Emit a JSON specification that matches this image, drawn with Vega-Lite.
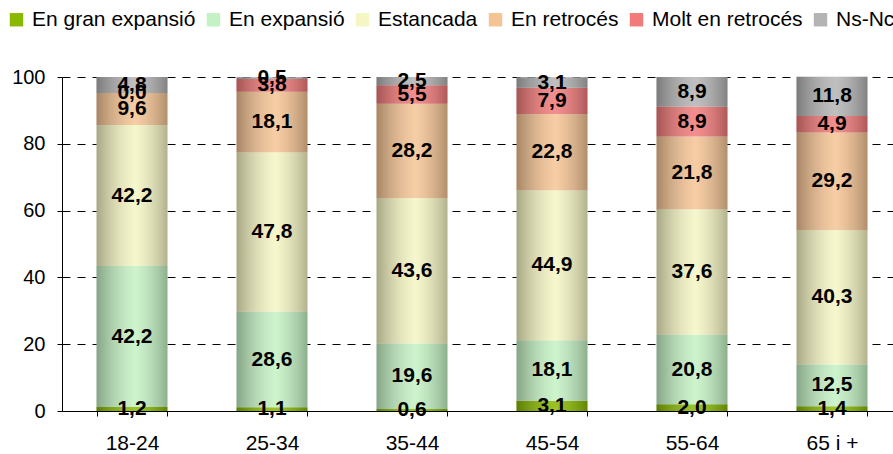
{
  "$schema": "https://vega.github.io/schema/vega-lite/v6.json",
  "autosize": "none",
  "width": 831,
  "height": 334,
  "padding": {"left": 62, "top": 77, "right": 0, "bottom": 43},
  "config": {
    "font": "Liberation Sans",
    "view": {"stroke": null},
    "locale": {"number": {"decimal": ",", "thousands": ".", "grouping": [3], "currency": ["", " €"]}}
  },
  "datasets": {
    "estats": [
      {"status": "En gran expansió", "ordre": 1},
      {"status": "En expansió", "ordre": 2},
      {"status": "Estancada", "ordre": 3},
      {"status": "En retrocés", "ordre": 4},
      {"status": "Molt en retrocés", "ordre": 5},
      {"status": "Ns-Nc", "ordre": 6}
    ],
    "enquesta": [
      {"age": "18-24", "status": "En gran expansió", "value": 1.2},
      {"age": "18-24", "status": "En expansió", "value": 42.2},
      {"age": "18-24", "status": "Estancada", "value": 42.2},
      {"age": "18-24", "status": "En retrocés", "value": 9.6},
      {"age": "18-24", "status": "Molt en retrocés", "value": 0.0},
      {"age": "18-24", "status": "Ns-Nc", "value": 4.8},
      {"age": "25-34", "status": "En gran expansió", "value": 1.1},
      {"age": "25-34", "status": "En expansió", "value": 28.6},
      {"age": "25-34", "status": "Estancada", "value": 47.8},
      {"age": "25-34", "status": "En retrocés", "value": 18.1},
      {"age": "25-34", "status": "Molt en retrocés", "value": 3.8},
      {"age": "25-34", "status": "Ns-Nc", "value": 0.5},
      {"age": "35-44", "status": "En gran expansió", "value": 0.6},
      {"age": "35-44", "status": "En expansió", "value": 19.6},
      {"age": "35-44", "status": "Estancada", "value": 43.6},
      {"age": "35-44", "status": "En retrocés", "value": 28.2},
      {"age": "35-44", "status": "Molt en retrocés", "value": 5.5},
      {"age": "35-44", "status": "Ns-Nc", "value": 2.5},
      {"age": "45-54", "status": "En gran expansió", "value": 3.1},
      {"age": "45-54", "status": "En expansió", "value": 18.1},
      {"age": "45-54", "status": "Estancada", "value": 44.9},
      {"age": "45-54", "status": "En retrocés", "value": 22.8},
      {"age": "45-54", "status": "Molt en retrocés", "value": 7.9},
      {"age": "45-54", "status": "Ns-Nc", "value": 3.1},
      {"age": "55-64", "status": "En gran expansió", "value": 2.0},
      {"age": "55-64", "status": "En expansió", "value": 20.8},
      {"age": "55-64", "status": "Estancada", "value": 37.6},
      {"age": "55-64", "status": "En retrocés", "value": 21.8},
      {"age": "55-64", "status": "Molt en retrocés", "value": 8.9},
      {"age": "55-64", "status": "Ns-Nc", "value": 8.9},
      {"age": "65 i +", "status": "En gran expansió", "value": 1.4},
      {"age": "65 i +", "status": "En expansió", "value": 12.5},
      {"age": "65 i +", "status": "Estancada", "value": 40.3},
      {"age": "65 i +", "status": "En retrocés", "value": 29.2},
      {"age": "65 i +", "status": "Molt en retrocés", "value": 4.9},
      {"age": "65 i +", "status": "Ns-Nc", "value": 11.8}
    ]
  },
  "data": {"name": "enquesta"},
  "transform": [
    {"lookup": "status", "from": {"data": {"name": "estats"}, "key": "status", "fields": ["ordre"]}}
  ],
  "encoding": {
    "x": {
      "field": "age",
      "type": "nominal",
      "sort": null,
      "scale": {"range": [0, 840], "paddingInner": 0.493, "paddingOuter": 0.2465},
      "axis": {
        "title": null,
        "labelAngle": 0,
        "labelFontSize": 21,
        "labelColor": "#000000",
        "labelPadding": 16,
        "tickBand": "extent",
        "tickSize": 5,
        "tickColor": "#000000",
        "domainColor": "#000000",
        "grid": false
      }
    },
    "order": {"field": "ordre", "type": "quantitative", "sort": "ascending"}
  },
  "layer": [
    {
      "mark": {"type": "bar"},
      "encoding": {
        "y": {
          "field": "value",
          "type": "quantitative",
          "stack": "zero",
          "scale": {"domain": [0, 100], "nice": false},
          "axis": {
            "title": null,
            "values": [0, 20, 40, 60, 80, 100],
            "labelFontSize": 20,
            "labelColor": "#000000",
            "labelPadding": 12,
            "tickSize": 5,
            "tickColor": "#000000",
            "domainColor": "#000000",
            "grid": true,
            "gridColor": "#000000",
            "gridDash": [8, 7],
            "gridWidth": 1
          }
        },
        "color": {
          "field": "status",
          "type": "nominal",
          "sort": ["En gran expansió", "En expansió", "Estancada", "En retrocés", "Molt en retrocés", "Ns-Nc"],
          "scale": {
            "domain": ["En gran expansió", "En expansió", "Estancada", "En retrocés", "Molt en retrocés", "Ns-Nc"],
            "range": ["#88b800", "#c4f2c4", "#f6f6c4", "#f5c494", "#f27a7a", "#b4b4b4"]
          },
          "legend": {
            "title": null,
            "orient": "none",
            "direction": "horizontal",
            "legendX": -56,
            "legendY": -68,
            "padding": 0,
            "symbolType": "square",
            "symbolSize": 180,
            "symbolStrokeWidth": 0,
            "labelFontSize": 21,
            "labelColor": "#000000",
            "labelOffset": 5,
            "labelLimit": 300,
            "columnPadding": 7
          }
        }
      }
    },
    {
      "mark": {
        "type": "bar",
        "fill": {
          "gradient": "linear",
          "x1": 0, "y1": 0, "x2": 1, "y2": 0,
          "stops": [
            {"offset": 0, "color": "rgba(0,0,0,0.32)"},
            {"offset": 0.55, "color": "rgba(255,255,255,0.15)"},
            {"offset": 1, "color": "rgba(0,0,0,0.28)"}
          ]
        }
      },
      "encoding": {
        "y": {"field": "value", "type": "quantitative", "stack": "zero"},
        "detail": {"field": "status"}
      }
    },
    {
      "mark": {"type": "text", "fontWeight": "bold", "fontSize": 21, "baseline": "middle", "color": "#000000"},
      "encoding": {
        "y": {"field": "value", "type": "quantitative", "stack": "zero", "bandPosition": 0.5},
        "text": {"field": "value", "type": "quantitative", "format": ".1f"},
        "detail": {"field": "status"}
      }
    }
  ]
}
